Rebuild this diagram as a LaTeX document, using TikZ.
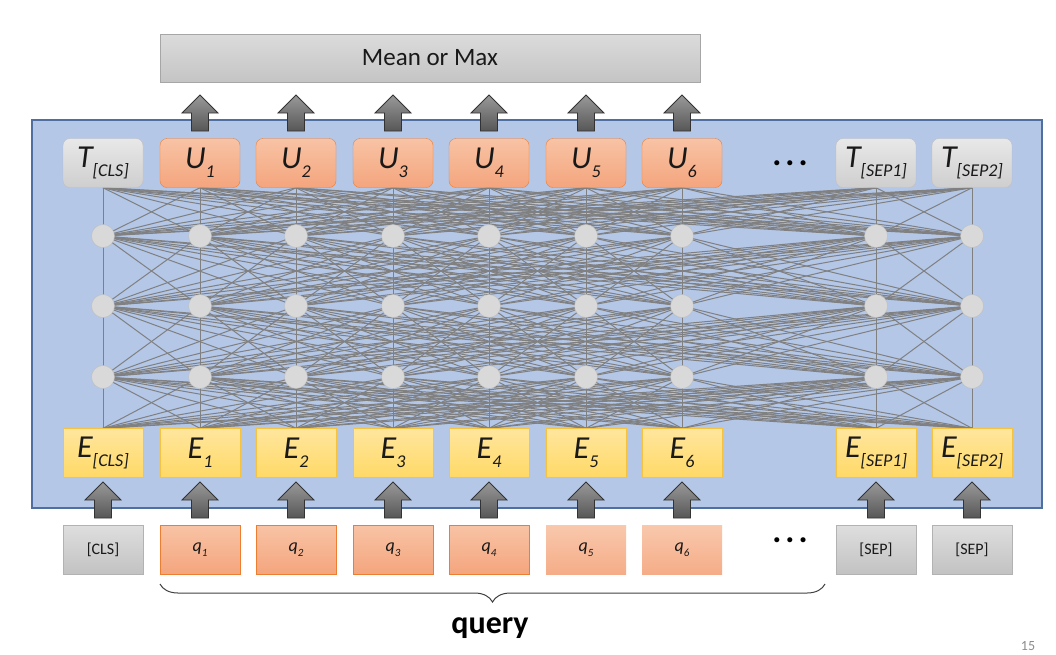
\documentclass[tikz,border=0pt]{standalone}
\usepackage{fontspec}
\setmainfont{Carlito}
\usetikzlibrary{positioning,backgrounds,decorations.pathreplacing}
\definecolor{panelblue}{HTML}{B4C7E7}
\definecolor{panelline}{HTML}{4F6FA0}
\definecolor{salmon}{HTML}{F4A57D}
\definecolor{salmonlt}{HTML}{F8C3A5}
\definecolor{salmonline}{HTML}{ED7D31}
\definecolor{sand}{HTML}{FFD966}
\definecolor{sandlt}{HTML}{FFE69E}
\definecolor{sandline}{HTML}{F5C242}
\definecolor{unitgray}{HTML}{D9D9D9}
\newcommand{\boxw}{80pt}
\newcommand{\boxh}{49pt}
\newcommand{\bigfont}{\fontsize{32}{32}\selectfont\itshape}
\newcommand{\qfont}{\fontsize{18}{18}\selectfont\itshape}
% letter with lowered index, as on the slide
\newcommand{\tokl}[2]{#1\raisebox{-9pt}{\fontsize{18}{18}\selectfont #2}}
\newcommand{\qtok}[1]{q\raisebox{-5pt}{\fontsize{11}{11}\selectfont #1}}
\tikzset{pics/uparr/.style={code={
  \path[blockarr] (-8.5,0) -- (-8.5,-18) -- (-18,-18) -- (0,-36) -- (18,-18) -- (8.5,-18) -- (8.5,0) -- cycle;
}}}

\begin{document}
\begin{tikzpicture}[x=1pt,y=-1pt,
  tok/.style={minimum width=\boxw, minimum height=\boxh, inner sep=0pt, text=black!90},
  outbox/.style={tok, rounded corners=7pt, top color=salmonlt, bottom color=salmon, draw=salmonline, font=\bigfont},
  clsbox/.style={tok, rounded corners=7pt, top color=black!9, bottom color=black!19, draw=black!25, font=\bigfont},
  embbox/.style={tok, top color=sandlt, bottom color=sand, draw=sandline, font=\bigfont},
  inbox/.style={tok, top color=salmonlt, bottom color=salmon, draw=salmonline, font=\qfont},
  inplain/.style={tok, top color=salmonlt!92!white, bottom color=salmon!92!white, font=\qfont},
  sepbox/.style={tok, top color=black!13, bottom color=black!24, draw=black!30, font=\fontsize{16}{16}\selectfont},
  unit/.style={circle, minimum size=23pt, inner sep=0pt, fill=unitgray, draw=black!25},
  wire/.style={draw=black!50, line width=1pt},
  blockarr/.style={top color=black!40, bottom color=black!66, draw=black!80, line width=0.8pt},
  gap/.style={font=\fontsize{34}{34}\selectfont\bfseries}
]
\useasboundingbox (0,0) rectangle (1056,654);

\node[tok, minimum width=540pt, minimum height=48pt, top color=black!14, bottom color=black!23,
  draw=black!35, font=\fontsize{25}{25}\selectfont] (pool) at (430,58) {Mean or Max};

% output row
\node[clsbox] (t0) at (103,163) {\tokl{T}{[CLS]}};
\node[outbox] (t1) at (200,163) {\tokl{U}{1}};
\node[outbox] (t2) at (296,163) {\tokl{U}{2}};
\node[outbox] (t3) at (393,163) {\tokl{U}{3}};
\node[outbox] (t4) at (489,163) {\tokl{U}{4}};
\node[outbox] (t5) at (586,163) {\tokl{U}{5}};
\node[outbox] (t6) at (682,163) {\tokl{U}{6}};
\node[gap] (dotsup) at (790,163) {.\hspace{4pt}.\hspace{4pt}.};
\node[clsbox] (t8) at (876,163) {\tokl{T}{[SEP1]}};
\node[clsbox] (t9) at (972,163) {\tokl{T}{[SEP2]}};

% hidden units
\foreach \i/\x in {0/103,1/200,2/296,3/393,4/489,5/586,6/682,8/876,9/972} {
  \node[unit] (a\i) at (\x,236) {};
  \node[unit] (b\i) at (\x,306) {};
  \node[unit] (c\i) at (\x,377) {};
}

% embedding row
\node[embbox] (e0) at (103,453) {\tokl{E}{[CLS]}};
\node[embbox] (e1) at (200,453) {\tokl{E}{1}};
\node[embbox] (e2) at (296,453) {\tokl{E}{2}};
\node[embbox] (e3) at (393,453) {\tokl{E}{3}};
\node[embbox] (e4) at (489,453) {\tokl{E}{4}};
\node[embbox] (e5) at (586,453) {\tokl{E}{5}};
\node[embbox] (e6) at (682,453) {\tokl{E}{6}};
\node[embbox] (e8) at (876,453) {\tokl{E}{[SEP1]}};
\node[embbox] (e9) at (972,453) {\tokl{E}{[SEP2]}};

% input row
\node[sepbox] (i0) at (103,550) {[CLS]};
\node[inbox] (i1) at (200,550) {\qtok{1}};
\node[inbox] (i2) at (296,550) {\qtok{2}};
\node[inbox] (i3) at (393,550) {\qtok{3}};
\node[inbox] (i4) at (489,550) {\qtok{4}};
\node[inplain] (i5) at (586,550) {\qtok{5}};
\node[inplain] (i6) at (682,550) {\qtok{6}};
\node[gap] (dotsdown) at (790,540) {.\hspace{4pt}.\hspace{4pt}.};
\node[sepbox] (i8) at (876,550) {[SEP]};
\node[sepbox] (i9) at (972,550) {[SEP]};

% block arrows
\foreach \x in {200,296,393,489,586,682} \pic at (\x,131) {uparr};
\foreach \x in {103,200,296,393,489,586,682,876,972} \pic at (\x,518) {uparr};

\begin{scope}[on background layer]
\fill[panelblue] (32,120) rectangle (1042,508);
\draw[panelline, line width=1.2pt] (32,120) rectangle (1042,508);
\foreach \i in {0,...,6,8,9} {
  \foreach \j in {0,...,6,8,9} {
    \draw[wire] (t\i.south) -- (a\j.center);
    \draw[wire] (a\i.center) -- (b\j.center);
    \draw[wire] (b\i.center) -- (c\j.center);
    \draw[wire] (c\i.center) -- (e\j.north);
  }
}
\end{scope}

\coordinate (bl) at (160,584);
\coordinate (br) at (825,584);
\draw[black!75, line width=1pt, decorate, decoration={brace, mirror, amplitude=18pt}] (bl) -- (br);
\node[font=\fontsize{32}{32}\selectfont\bfseries] (querylab) at (490,628) {query};
\node[text=black!45, font=\fontsize{14}{14}\selectfont] (pagenum) at (1028,646) {15};
\end{tikzpicture}
\end{document}
